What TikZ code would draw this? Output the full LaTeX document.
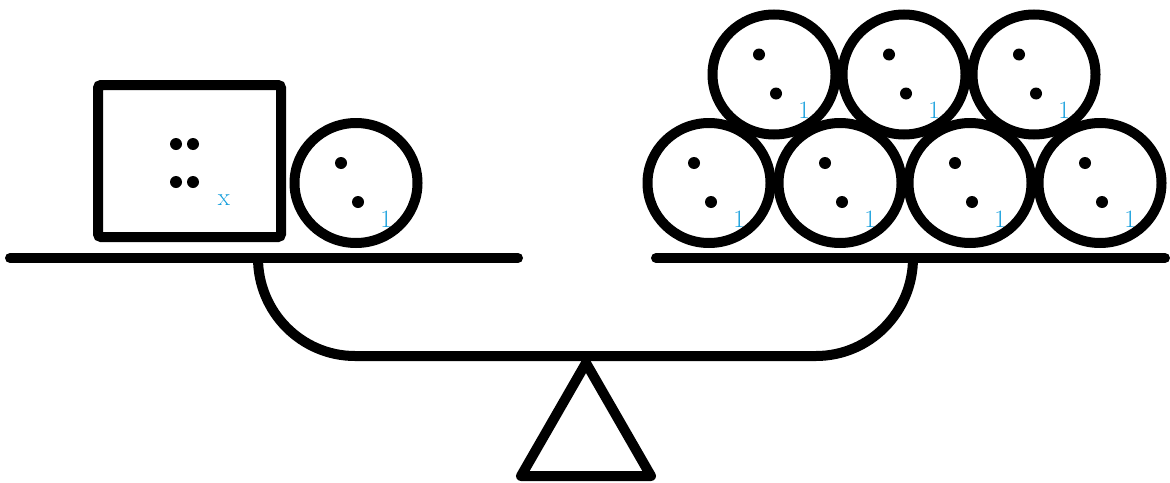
\documentclass[tikz,border=0pt]{standalone}
\definecolor{labelblue}{RGB}{20,158,220}
\begin{document}
\begin{tikzpicture}[x=1pt,y=-1pt,line width=10pt,
  ball/.style={draw,line width=10pt},
  dotmark/.style={fill=black},
  lbl/.style={text=labelblue,font=\fontsize{25}{30}\selectfont,inner sep=0pt}]
\useasboundingbox (0,0) rectangle (1170,482);
% pans
\draw[line cap=round] (10,258) -- (518,258);
\draw[line cap=round] (656,258) -- (1165,258);
% beam
\draw[line join=round] (258,258) arc[start angle=180,end angle=90,x radius=97,y radius=98]
  -- (816,356) arc[start angle=90,end angle=0,x radius=97,y radius=98];
% fulcrum
\draw[line join=round] (586,363) -- (521,476) -- (651,476) -- cycle;
% box x
\draw[rounded corners=3pt] (98,85) rectangle (281,237);
\foreach \p in {(176,144),(193,144),(176,182),(193,182)}
  \fill \p circle[radius=6];
\node[lbl] (xlab) at (224,200) {x};
% balls
\newcommand{\ballat}[3]{%
  \draw[ball] (#1,#2) ellipse[x radius=61.5,y radius=60];
  \fill (#1-15,#2-20) circle[radius=6];
  \fill (#1+2,#2+19) circle[radius=6];
  \node[lbl] (#3) at (#1+30,#2+36) {1};}
\ballat{356}{183}{b0}
\ballat{709}{183}{b1}
\ballat{840}{183}{b2}
\ballat{970}{183}{b3}
\ballat{1100}{183}{b4}
\ballat{774}{74.5}{t1}
\ballat{904}{74.5}{t2}
\ballat{1034}{74.5}{t3}
\end{tikzpicture}
\end{document}
